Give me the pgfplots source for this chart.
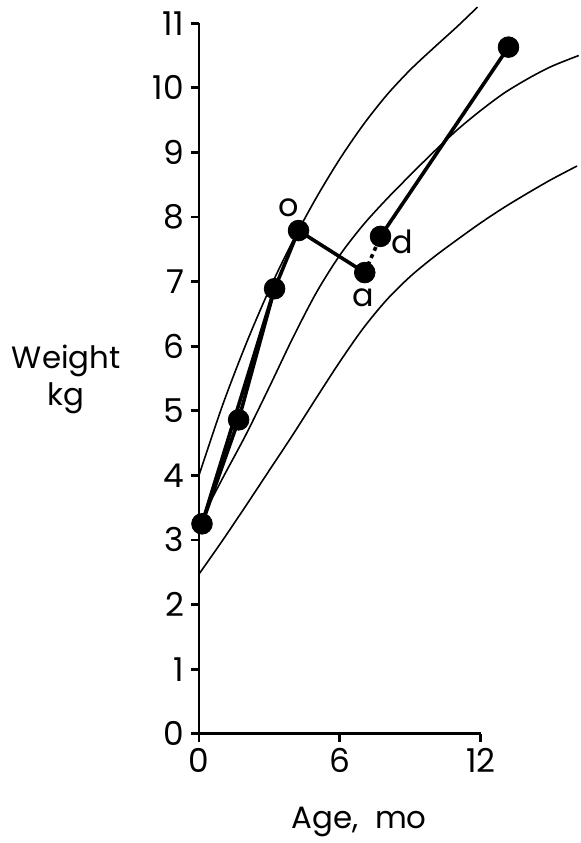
\documentclass[border=0pt]{standalone}
\usepackage{fontspec}
\setmainfont{Poppins}
\usepackage{pgfplots}
\pgfplotsset{compat=1.18}
\begin{document}
\begin{tikzpicture}
\begin{axis}[
  x=11.8pt, y=32.45pt,
  xmin=0, xmax=12, ymin=0, ymax=11,
  axis x line=bottom, axis y line=left,
  axis line style={-, line width=1.4pt},
  xtick={0,6,12}, ytick={0,1,...,11},
  tick align=outside, major tick length=4pt,
  tick style={line width=1.4pt, black},
  /pgf/number format/assume math mode=true,
  tick label style={font=\fontsize{16.5}{19}\selectfont},
  clip=false,
]
% percentile curves
\addplot[black, line width=0.8pt, smooth] coordinates {
 (0,4.0) (1,5.08) (2,6.03) (3,6.88) (4,7.63) (5,8.30) (6,8.90) (7,9.43) (8,9.89) (9,10.28) (10,10.62) (11,10.95) (11.86,11.25)};
\addplot[black, line width=0.8pt, smooth] coordinates {
 (0,3.25) (1,3.95) (2,4.63) (3,5.37) (4,6.13) (5,6.83) (6,7.41) (7,7.88) (8,8.28) (9,8.65) (10,9.01) (11,9.35) (12,9.65) (13,9.92) (14,10.14) (15,10.33) (16.17,10.50)};
\addplot[black, line width=0.8pt, smooth] coordinates {
 (0,2.47) (1,2.99) (2,3.53) (3,4.08) (4,4.63) (5,5.20) (6,5.76) (7,6.28) (8,6.72) (9,7.08) (10,7.38) (11,7.65) (12,7.91) (13,8.15) (14,8.37) (15,8.58) (16.1,8.79)};
% patient data
\addplot[black, line width=1.8pt] coordinates {(0.13,3.25) (3.22,6.89)};
\addplot[black, line width=1.8pt] coordinates {
 (0.13,3.25) (1.69,4.86) (3.22,6.89) (4.24,7.79) (7.06,7.14)};
\addplot[black, line width=1.8pt, dash pattern=on 2pt off 2pt] coordinates {(7.06,7.14) (7.73,7.70)};
\addplot[black, line width=1.8pt] coordinates {(7.73,7.70) (13.18,10.63)};
\addplot[only marks, mark=*, mark size=5.2pt, black] coordinates {
 (0.13,3.25) (1.69,4.86) (3.22,6.89) (4.24,7.79) (7.06,7.14) (7.73,7.70) (13.18,10.63)};
\node[font=\fontsize{16}{19}\selectfont] at (axis cs:3.83,8.14) {o};
\node[font=\fontsize{16}{19}\selectfont] at (axis cs:7.01,6.75) {a};
\node[font=\fontsize{16}{19}\selectfont] at (axis cs:8.67,7.61) {d};
\node[font=\fontsize{15.5}{18.5}\selectfont, align=center] at (axis cs:-5.65,5.49) {Weight\\kg};
\node[font=\fontsize{15.5}{18.5}\selectfont, anchor=base] at (axis cs:6.82,-1.46) {Age,\ \ mo};
\path (axis cs:-8.47,-1.63) rectangle (axis cs:16.23,11.36);
\end{axis}
\end{tikzpicture}
\end{document}
